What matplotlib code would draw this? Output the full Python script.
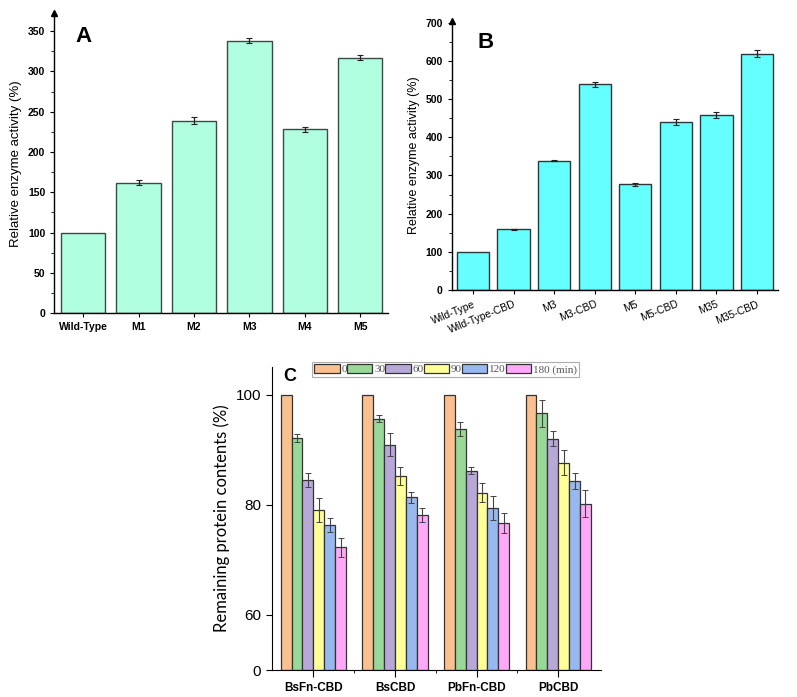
import numpy as np
import matplotlib
matplotlib.use("Agg")
import matplotlib.pyplot as plt
from matplotlib.ticker import MultipleLocator, FixedLocator

plt.rcParams['font.family'] = ['Liberation Sans', 'DejaVu Sans']

# Panel A data
a_labels = ['Wild-Type', 'M1', 'M2', 'M3', 'M4', 'M5']
a_values = [100, 162, 239, 338, 228, 317]
a_errors = [0, 3.5, 4.8, 3.1, 2.9, 3.3]

# Panel B data
b_labels = ['Wild-Type', 'Wild-Type-CBD', 'M3', 'M3-CBD', 'M5', 'M5-CBD', 'M35', 'M35-CBD']
b_values = [100, 159, 339, 539, 277, 441, 458, 619]
b_errors = [0, 2, 2, 7, 4, 7.5, 8, 9]

# Panel C data
c_groups = ['BsFn-CBD', 'BsCBD', 'PbFn-CBD', 'PbCBD']
c_times = ['0', '30', '60', '90', '120', '180 (min)']
c_values = [
    [100, 92.1, 84.5, 79.1, 76.3, 72.3],
    [100, 95.6, 90.9, 85.2, 81.4, 78.2],
    [100, 93.7, 86.2, 82.2, 79.4, 76.7],
    [100, 96.6, 92.0, 87.6, 84.3, 80.2],
]
c_errors = [
    [0, 0.75, 1.35, 2.2, 1.3, 1.7],
    [0, 0.65, 2.1, 1.6, 1.0, 1.3],
    [0, 1.25, 0.7, 1.7, 2.2, 1.8],
    [0, 2.5, 1.35, 2.25, 1.5, 2.4],
]
c_colors = ['#FAC090', '#98D898', '#B8A8D8', '#FFFF99', '#98B8F0', '#FFA8F8']

fig = plt.figure(figsize=(7.97, 6.97), dpi=100)


def style_activity_axes(ax, labels, label_size):
    ax.spines['top'].set_visible(False)
    ax.spines['right'].set_visible(False)
    ax.spines['left'].set_linewidth(1.0)
    ax.spines['bottom'].set_linewidth(1.0)
    ax.set_xticks(range(len(labels)))
    ax.tick_params(axis='both', labelsize=7.5, length=3, width=0.8)
    ax.tick_params(axis='y', which='minor', length=2, width=0.6)
    for t in ax.get_yticklabels():
        t.set_fontweight('bold')
    ax.set_ylabel('Relative enzyme activity (%)', fontsize=label_size)
    # arrow at the top of the y axis
    ax.plot(0, 1, marker='^', color='black', markersize=5,
            transform=ax.transAxes, clip_on=False)


# ---- Panel A ----
axA = fig.add_axes([0.0681, 0.5505, 0.4187, 0.4304])
x = np.arange(len(a_labels))
axA.bar(x, a_values, width=0.8, color='#AFFFE0', edgecolor='#3a4a44', linewidth=1.0)
axA.errorbar(x[1:], a_values[1:], yerr=a_errors[1:], fmt='none', ecolor='#222222',
             elinewidth=0.9, capsize=2.5, capthick=0.8)
axA.set_xlim(-0.52, 5.5)
axA.set_ylim(0, 372)
axA.yaxis.set_major_locator(MultipleLocator(50))
axA.yaxis.set_minor_locator(MultipleLocator(25))
style_activity_axes(axA, a_labels, 9.5)
axA.set_xticklabels(a_labels, fontweight='bold')
axA.text(0.062, 0.905, 'A', transform=axA.transAxes, fontsize=16, fontweight='bold')

# ---- Panel B ----
axB = fig.add_axes([0.5667, 0.5839, 0.4094, 0.3862])
x = np.arange(len(b_labels))
axB.bar(x, b_values, width=0.8, color='#66FFFF', edgecolor='#2a3a3a', linewidth=1.0)
axB.errorbar(x[1:], b_values[1:], yerr=b_errors[1:], fmt='none', ecolor='#222222',
             elinewidth=0.9, capsize=2.5, capthick=0.8)
axB.set_xlim(-0.53, 7.52)
axB.set_ylim(0, 705)
axB.yaxis.set_major_locator(MultipleLocator(100))
axB.yaxis.set_minor_locator(MultipleLocator(50))
style_activity_axes(axB, b_labels, 9.0)
axB.set_xticklabels(b_labels, rotation=22, ha='right', rotation_mode='anchor', fontsize=7.5)
axB.text(0.078, 0.9, 'B', transform=axB.transAxes, fontsize=16, fontweight='bold')


# ---- Panel C ----
def fwd(y):
    y = np.asarray(y, dtype=float)
    return np.where(y < 60, y / 6.0, y - 50.0)


def inv(t):
    t = np.asarray(t, dtype=float)
    return np.where(t < 10, t * 6.0, t + 50.0)


axC = fig.add_axes([0.3409, 0.0387, 0.4128, 0.4347])
axC.set_yscale('function', functions=(fwd, inv))
n_groups = len(c_groups)
n_times = len(c_times)
bw = 0.8 / n_times
gx = np.arange(n_groups)
vals = np.array(c_values)
errs = np.array(c_errors)
for j in range(n_times):
    pos = gx - 0.4 + bw * (j + 0.5)
    axC.bar(pos, vals[:, j], width=bw, color=c_colors[j], edgecolor='#333333',
            linewidth=0.9, label=c_times[j])
    if j > 0:
        axC.errorbar(pos, vals[:, j], yerr=errs[:, j], fmt='none', ecolor='#444444',
                     elinewidth=0.8, capsize=2.2, capthick=0.7)
axC.set_xlim(-0.51, 3.52)
axC.set_ylim(0, 105)
axC.yaxis.set_major_locator(FixedLocator([0, 60, 80, 100]))
axC.yaxis.set_minor_locator(FixedLocator([]))
axC.set_yticklabels(['0', '60', '80', '100'])
axC.set_xticks(gx)
axC.set_xticks(gx[:-1] + 0.5, minor=True)
axC.set_xticklabels(c_groups, fontweight='bold', fontsize=8.5)
axC.tick_params(axis='y', labelsize=11, length=4)
axC.tick_params(axis='x', which='major', length=5)
axC.tick_params(axis='x', which='minor', length=2)
axC.spines['top'].set_visible(False)
axC.spines['right'].set_visible(False)
axC.set_ylabel('Remaining protein contents (%)', fontsize=12, family=['Lato', 'DejaVu Sans'])
axC.text(0.035, 0.955, 'C', transform=axC.transAxes, fontsize=13, fontweight='bold')

leg = axC.legend(loc='upper left', bbox_to_anchor=(0.1225, 1.017), ncol=6,
                 prop={'family': ['Liberation Serif', 'DejaVu Serif'], 'size': 8},
                 frameon=True, fancybox=False, handlelength=2.3, handleheight=0.85,
                 handletextpad=0.15, columnspacing=0.0, borderpad=0.2,
                 borderaxespad=0.0)
leg.get_frame().set_edgecolor('#999999')
leg.get_frame().set_linewidth(0.8)
for t in leg.get_texts():
    t.set_color('#555555')

fig.savefig('out.png', dpi=100)
